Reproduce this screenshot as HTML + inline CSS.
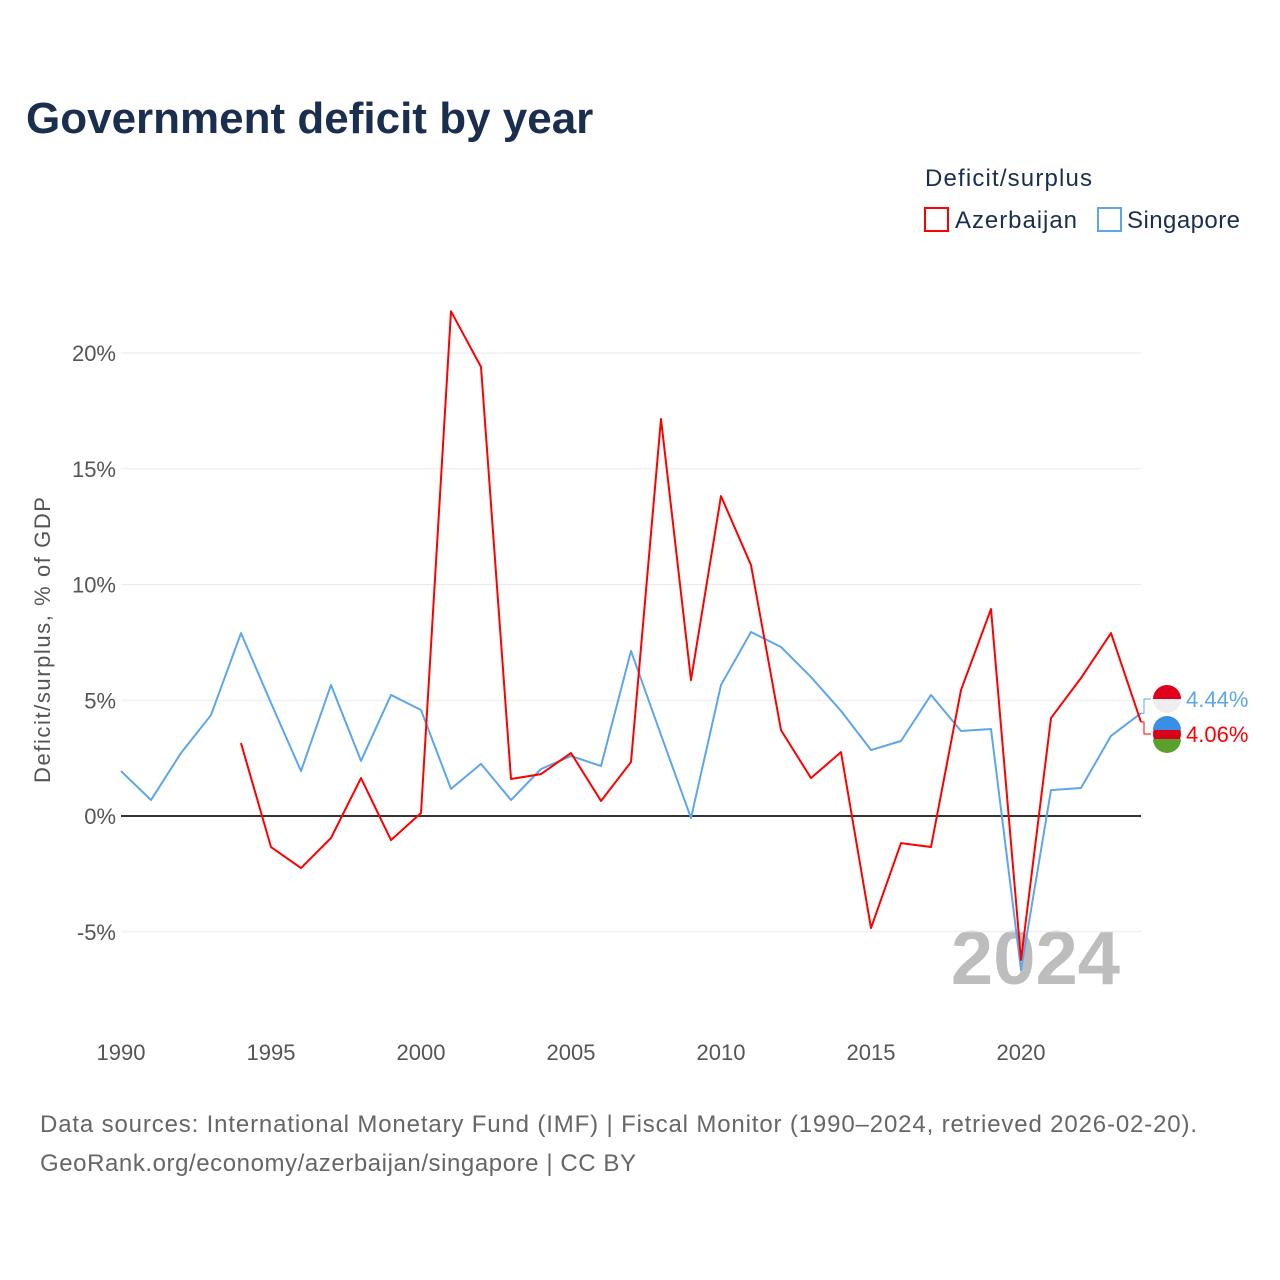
<!DOCTYPE html>
<html><head><meta charset="utf-8"><style>
body{margin:0;background:#fff;font-family:"Liberation Sans",sans-serif}
svg{display:block}
</style></head><body>
<svg id="chart" width="1280" height="1280">
<text x="26" y="133" font-size="44" font-weight="bold" fill="#1a2e4f">Government deficit by year</text>
<text x="925" y="186" font-size="24" fill="#1a2e4f" textLength="167">Deficit/surplus</text>
<g><rect x="925" y="208" width="23" height="23" fill="none" stroke="#ff0000" stroke-width="2"/><text x="955" y="228" font-size="24" fill="#1a2e4f" textLength="122">Azerbaijan</text></g>
<g><rect x="1098" y="208" width="23" height="23" fill="none" stroke="#5ea6ea" stroke-width="2"/><text x="1127" y="228" font-size="24" fill="#1a2e4f" textLength="113">Singapore</text></g>
<text transform="translate(50,640) rotate(-90)" text-anchor="middle" font-size="22" fill="#555" textLength="286">Deficit/surplus, % of GDP</text>
<text x="1120" y="984" text-anchor="end" font-size="76" font-weight="bold" fill="#bdbdbd">2024</text>
<g id="grid"></g><g id="marks"></g>
<text x="40" y="1132" font-size="24" fill="#666" textLength="1157">Data sources: International Monetary Fund (IMF) | Fiscal Monitor (1990–2024, retrieved 2026-02-20).</text>
<text x="40" y="1171" font-size="24" fill="#666" textLength="596">GeoRank.org/economy/azerbaijan/singapore | CC BY</text>
</svg>
<script>
const years=[];for(let y=1990;y<=2024;y++)years.push(y);
const singapore=[1.94,0.69,2.72,4.36,7.9,4.88,1.94,5.66,2.38,5.23,4.58,1.17,2.25,0.69,2.03,2.59,2.16,7.13,3.5,-0.09,5.66,7.95,7.3,6.0,4.54,2.85,3.24,5.23,3.67,3.76,-6.65,1.12,1.21,3.46,4.44];
const azerbaijan=[null,null,null,null,3.15,-1.34,-2.25,-0.95,1.64,-1.04,0.13,21.8,19.4,1.6,1.81,2.72,0.65,2.33,17.15,5.87,13.82,10.84,3.71,1.64,2.76,-4.84,-1.17,-1.34,5.44,8.94,-6.22,4.23,5.96,7.9,4.06];
const yTicks=[-5,0,5,10,15,20];
const xTicks=[1990,1995,2000,2005,2010,2015,2020];
const X=y=>121+(y-1990)*30, Y=v=>816-v*23.15;
const NS="http://www.w3.org/2000/svg";
const grid=document.getElementById('grid'),marks=document.getElementById('marks');
function mk(tag,attrs,parent){const e=document.createElementNS(NS,tag);for(const k in attrs)e.setAttribute(k,attrs[k]);parent.appendChild(e);return e;}
yTicks.forEach(t=>{
 const l=mk('line',{x1:121,x2:1141,y1:Y(t),y2:Y(t),stroke:t===0?'#333':'#eaeaea','stroke-width':t===0?2:1},grid);
 
 
 const tx=mk('text',{x:116,y:Y(t)+8,'text-anchor':'end','font-size':22,fill:'#555'},grid);tx.textContent=t+'%';
 
 
});
xTicks.forEach(t=>{
 const tx=mk('text',{x:X(t),y:1060,'text-anchor':'middle','font-size':22,fill:'#555'},grid);tx.textContent=t;
 
 
});
function line(vals,color,name){
 let d='';vals.forEach((v,i)=>{if(v===null)return;d+=(d?'L':'M')+X(years[i])+','+Y(v);});
 const p=mk('path',{d:d,fill:'none',stroke:color,'stroke-width':2,'stroke-linejoin':'round'},marks);
 
 
}
line(singapore,'#5ea6ea','singapore-line');
line(azerbaijan,'#ff0000','azerbaijan-line');
function endLabel(v,ly,color,name,flag){
 const last=X(2024);
 mk('path',{d:`M${last},${Y(v)}L${last+3},${Y(v)}L${last+3},${ly}L${last+10},${ly}`,fill:'none',stroke:color,'stroke-width':1},marks);
 const c=mk('g',{},marks);
 if(flag==='sg'){mk('circle',{cx:1167,cy:ly,r:14,fill:'#eee'},c);mk('path',{d:`M1153,${ly}A14,14 0 0 1 1181,${ly}Z`,fill:'#e0001b'},c);}
 else{mk('circle',{cx:1167,cy:ly,r:14,fill:'#d9001b'},c);mk('path',{d:`M1153,${ly-4}A14,14 0 0 1 1181,${ly-4}Z`,fill:'#3a8ee6'},c);mk('path',{d:`M1153,${ly+5}A14,14 0 0 0 1181,${ly+5}Z`,fill:'#5aa02c'},c);}
 
 
 const t=mk('text',{x:1186,y:ly+8,'font-size':22,fill:color},marks);t.textContent=v.toFixed(2)+'%';
 
 
}
endLabel(singapore[singapore.length-1],699,'#5ea6ea','singapore-end-label','sg');
endLabel(azerbaijan[azerbaijan.length-1],734,'#ff0000','azerbaijan-end-label','az');
</script>
</body></html>
